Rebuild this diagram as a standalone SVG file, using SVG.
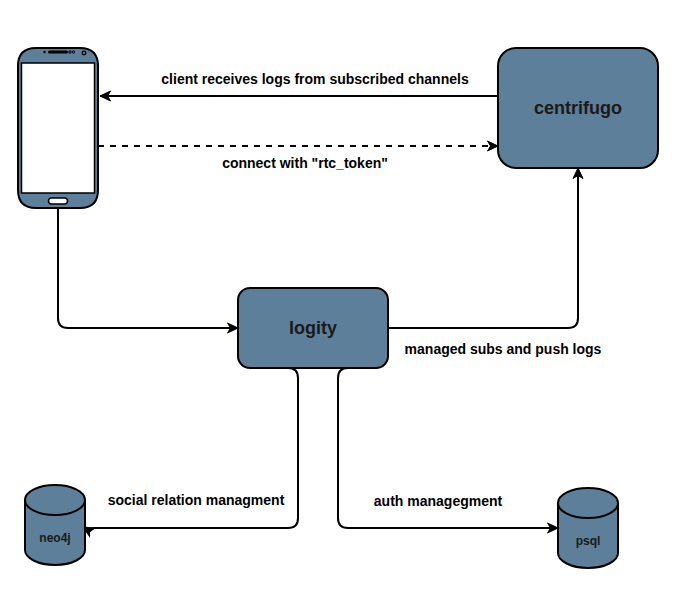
<svg xmlns="http://www.w3.org/2000/svg" width="680" height="597" viewBox="0 0 680 597">
<style>
.s{fill:#5d7f99;stroke:#000;stroke-width:2}
.c{fill:none;stroke:#000;stroke-width:2}
.t{font-family:"Liberation Sans",Arial,sans-serif;font-weight:bold;fill:#1a1a1a;text-anchor:middle}
.l{font-size:14px;fill:#000;font-family:"Liberation Sans",Arial,sans-serif;font-weight:bold;text-anchor:middle}
</style>
<defs>
<marker id="a" markerUnits="userSpaceOnUse" markerWidth="14" markerHeight="14" refX="11" refY="7" orient="auto"><path d="M0.500 2L11 7L0.500 12L3.500 7Z" fill="#000" stroke="#000"/></marker>
</defs>
<rect width="680" height="597" fill="#fff"/>
<g id="connectors">
<path class="c" marker-end="url(#a)" d="M498 96H100"/>
<path class="c" marker-end="url(#a)" stroke-dasharray="6 6" d="M98 146H498"/>
<path class="c" marker-end="url(#a)" d="M58 208V318Q58 328 68 328H238"/>
<path class="c" marker-end="url(#a)" d="M388 328H568Q578 328 578 318V168"/>
<path class="c" marker-end="url(#a)" d="M288 368Q298 368 298 378V518Q298 528 288 528H94L90 531L83 527"/>
<path class="c" marker-end="url(#a)" d="M348 368Q338 368 338 378V518Q338 528 348 528H558"/>
</g>
<g id="phone">
<path class="s" d="M18 66Q18 48 36 48H80Q98 48 98 66V190Q98 208 80 208H36Q18 208 18 190Z"/>
<rect x="21.500" y="63" width="73" height="130" fill="#fff" stroke="#000" stroke-width="1.500"/>
<rect x="48" y="50.500" width="20" height="3" rx="1.500" fill="#000"/>
<circle cx="44.500" cy="52" r="1.200" fill="#000"/>
<circle cx="70" cy="52" r="1.200" fill="none" stroke="#000"/>
<circle cx="73.500" cy="52" r="1.200" fill="none" stroke="#000"/>
<circle cx="84" cy="53" r="1.800" fill="none" stroke="#000" stroke-width="1.300"/>
<rect x="48.500" y="198" width="19" height="6" rx="3" fill="#fff" stroke="#000" stroke-width="1.500"/>
</g>
<g id="centrifugo">
<rect class="s" x="498" y="48" width="160" height="120" rx="18"/>
<text class="t" x="578" y="114" font-size="18">centrifugo</text>
</g>
<g id="logity">
<rect class="s" x="238" y="288" width="150" height="80" rx="12"/>
<text class="t" x="313" y="334" font-size="18">logity</text>
</g>
<g id="neo4j">
<path class="s" d="M25 500V550C25 558 38 565 55 565S85 558 85 550V500"/>
<ellipse class="s" cx="55" cy="500" rx="30" ry="15"/>
<text class="t" x="55" y="542" font-size="12">neo4j</text>
</g>
<g id="psql">
<path class="s" d="M558 503V553C558 561 571 568 588 568S618 561 618 553V503"/>
<ellipse class="s" cx="588" cy="503" rx="30" ry="15"/>
<text class="t" x="588" y="545" font-size="12">psql</text>
</g>
<g id="labels">
<text class="l" x="315" y="84">client receives logs from subscribed channels</text>
<text class="l" x="305" y="168">connect with "rtc_token"</text>
<text class="l" x="503" y="354">managed subs and push logs</text>
<text class="l" x="196" y="505">social relation managment</text>
<text class="l" x="438" y="506">auth managegment</text>
</g>
</svg>
